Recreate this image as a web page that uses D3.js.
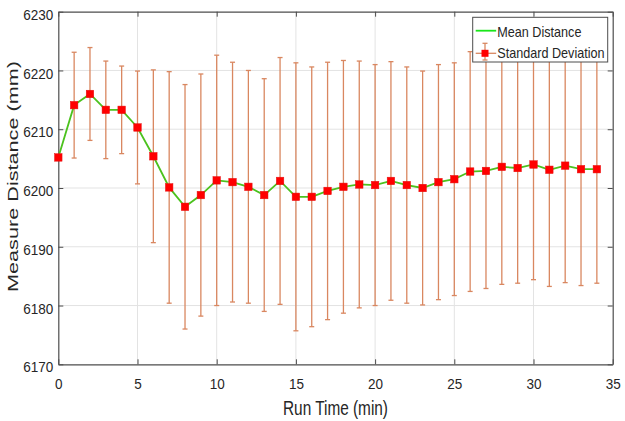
<!DOCTYPE html>
<html>
<head>
<meta charset="utf-8">
<script src="https://cdn.jsdelivr.net/npm/d3@7"></script>
<style>
  body { margin: 0; background: #fff; }
  text { font-family: "Liberation Sans", Arial, sans-serif; fill: #262626; }
</style>
</head>
<body>
<svg id="chart" width="625" height="421"></svg>
<script>
// run time (min)
const runTime = [0, 1, 2, 3, 4, 5, 6, 7, 8, 9, 10, 11, 12, 13, 14, 15, 16, 17,
                 18, 19, 20, 21, 22, 23, 24, 25, 26, 27, 28, 29, 30, 31, 32, 33, 34];
// mean distance (mm)
const meanDist = [6205.2, 6214.1, 6216.0, 6213.3, 6213.3, 6210.3, 6205.4, 6200.1, 6196.8, 6198.8,
                  6201.3, 6201.0, 6200.2, 6198.8, 6201.2, 6198.5, 6198.5, 6199.5, 6200.2, 6200.6,
                  6200.5, 6201.2, 6200.5, 6200.0, 6201.0, 6201.5, 6202.8, 6202.9, 6203.6, 6203.4,
                  6204.0, 6203.1, 6203.8, 6203.2, 6203.2];
// standard deviation (mm)
const stdDev = [0, 9.0, 7.9, 8.3, 7.45, 9.6, 14.7, 19.7, 20.8, 20.6,
                21.3, 20.4, 19.8, 19.8, 21.0, 22.8, 22.1, 21.9, 21.5, 21.0,
                20.5, 20.3, 20.1, 19.9, 20.0, 19.8, 20.4, 20.0, 20.0, 19.6,
                19.6, 19.85, 19.9, 19.8, 19.4];

const xTicks = [0, 5, 10, 15, 20, 25, 30, 35];
const yTicks = [6170, 6180, 6190, 6200, 6210, 6220, 6230];
const legendLabels = ["Mean Distance", "Standard Deviation"];

let data = runTime.map((t, i) => ({ t: t, m: meanDist[i], sd: stdDev[i] }));

let margin = { left: 58.3, right: 12.3, top: 11.7, bottom: 56.7 };
let W = 625, H = 421;
let iw = W - margin.left - margin.right;
let ih = H - margin.top - margin.bottom;

let svg = d3.select("#chart");
let g = svg.append("g").attr("transform", `translate(${margin.left},${margin.top})`);

let x = d3.scaleLinear().domain([0, 35]).range([0, iw]);
let y = d3.scaleLinear().domain([6170, 6230]).range([ih, 0]);

// squeeze text horizontally, the picture is a bit narrow
function squeeze(sel, r) {
  sel.attr("textLength", function() { return this.getComputedTextLength() * r; })
     .attr("lengthAdjust", "spacingAndGlyphs");
}

// grid
g.append("g").selectAll("line").data(xTicks.slice(1, -1)).join("line")
  .attr("x1", d => x(d)).attr("x2", d => x(d))
  .attr("y1", 0).attr("y2", ih)
  .attr("stroke", "#e3e3e3").attr("stroke-width", 1);
g.append("g").selectAll("line").data(yTicks.slice(1, -1)).join("line")
  .attr("y1", d => y(d)).attr("y2", d => y(d))
  .attr("x1", 0).attr("x2", iw)
  .attr("stroke", "#e3e3e3").attr("stroke-width", 1);

// axes (ticks pointing inward, box on)
let xAxis = g.append("g").attr("transform", `translate(0,${ih})`)
  .call(d3.axisBottom(x).tickValues(xTicks).tickSizeInner(-5).tickSizeOuter(0));
let xAxisTop = g.append("g")
  .call(d3.axisTop(x).tickValues(xTicks).tickSizeInner(-5).tickSizeOuter(0).tickFormat(""));
let yAxis = g.append("g")
  .call(d3.axisLeft(y).tickValues(yTicks).tickFormat(d3.format("d")).tickSizeInner(-5).tickSizeOuter(0));
let yAxisRight = g.append("g").attr("transform", `translate(${iw},0)`)
  .call(d3.axisRight(y).tickValues(yTicks).tickSizeInner(-5).tickSizeOuter(0).tickFormat(""));

[xAxis, xAxisTop, yAxis, yAxisRight].forEach(a => {
  a.select(".domain").attr("stroke", "#4d4d4d").attr("stroke-width", 1.2);
  a.selectAll(".tick line").attr("stroke", "#4d4d4d");
});

xAxis.selectAll(".tick text").attr("font-size", 15).attr("fill", "#262626")
  .attr("dy", null).attr("y", 25);
yAxis.selectAll(".tick text").attr("font-size", 15).attr("fill", "#262626")
  .attr("dy", null).attr("y", 7.6).attr("x", -5);
xAxis.selectAll(".tick text").call(squeeze, 0.9);
yAxis.selectAll(".tick text").call(squeeze, 0.9);

// error bars
let errColor = "#d98760";
let capW = 2.5;
let eb = g.append("g").selectAll("g").data(data.filter(d => d.sd > 0)).join("g");
eb.append("line")
  .attr("x1", d => x(d.t)).attr("x2", d => x(d.t))
  .attr("y1", d => y(d.m - d.sd)).attr("y2", d => y(d.m + d.sd))
  .attr("stroke", errColor).attr("stroke-width", 1.3);
eb.append("line")
  .attr("x1", d => x(d.t) - capW).attr("x2", d => x(d.t) + capW)
  .attr("y1", d => y(d.m - d.sd)).attr("y2", d => y(d.m - d.sd))
  .attr("stroke", errColor).attr("stroke-width", 1.3);
eb.append("line")
  .attr("x1", d => x(d.t) - capW).attr("x2", d => x(d.t) + capW)
  .attr("y1", d => y(d.m + d.sd)).attr("y2", d => y(d.m + d.sd))
  .attr("stroke", errColor).attr("stroke-width", 1.3);

// mean line
let line = d3.line().x(d => x(d.t)).y(d => y(d.m));
g.append("path").datum(data)
  .attr("d", line)
  .attr("fill", "none")
  .attr("stroke", "#4cc21e")
  .attr("stroke-width", 1.8);

// markers
let ms = 7.5;
g.append("g").selectAll("rect").data(data).join("rect")
  .attr("x", d => x(d.t) - ms / 2).attr("y", d => y(d.m) - ms / 2)
  .attr("width", ms).attr("height", ms)
  .attr("fill", "#ff0000").attr("stroke", "#e81010").attr("stroke-width", 0.5);

// legend
let lg = svg.append("g").attr("transform", "translate(472.7,17.3)");
lg.append("rect").attr("width", 135).attr("height", 44.7)
  .attr("fill", "#fff").attr("stroke", "#4d4d4d").attr("stroke-width", 1);
lg.append("line").attr("x1", 3).attr("x2", 23.5).attr("y1", 13.4).attr("y2", 13.4)
  .attr("stroke", "#19e619").attr("stroke-width", 1.8);
lg.append("line").attr("x1", 3).attr("x2", 23.5).attr("y1", 36).attr("y2", 36)
  .attr("stroke", errColor).attr("stroke-width", 1.3);
lg.append("line").attr("x1", 12.3).attr("x2", 12.3).attr("y1", 26).attr("y2", 42.7)
  .attr("stroke", errColor).attr("stroke-width", 1.3);
[26, 42.7].forEach(cy => {
  lg.append("line").attr("x1", 12.3 - capW).attr("x2", 12.3 + capW).attr("y1", cy).attr("y2", cy)
    .attr("stroke", errColor).attr("stroke-width", 1.3);
});
lg.append("rect").attr("x", 12.3 - 3.5).attr("y", 36 - 3.5).attr("width", 7).attr("height", 7)
  .attr("fill", "#ff0000");
lg.selectAll("text.lab").data(legendLabels).join("text")
  .attr("class", "lab")
  .attr("x", 24.6).attr("y", (d, i) => 19.4 + i * 21)
  .attr("font-size", 14.5)
  .text(d => d)
  .call(squeeze, 0.87);

// axis labels
svg.append("text")
  .attr("x", margin.left + iw / 2).attr("y", 415)
  .attr("text-anchor", "middle")
  .attr("font-size", 20)
  .attr("textLength", 105).attr("lengthAdjust", "spacingAndGlyphs")
  .text("Run Time (min)");

svg.append("text")
  .attr("transform", "translate(17.5,176.5) rotate(-90)")
  .attr("text-anchor", "middle")
  .attr("font-size", 15)
  .attr("textLength", 231).attr("lengthAdjust", "spacingAndGlyphs")
  .text("Measure Distance (mm)");
</script>
</body>
</html>
